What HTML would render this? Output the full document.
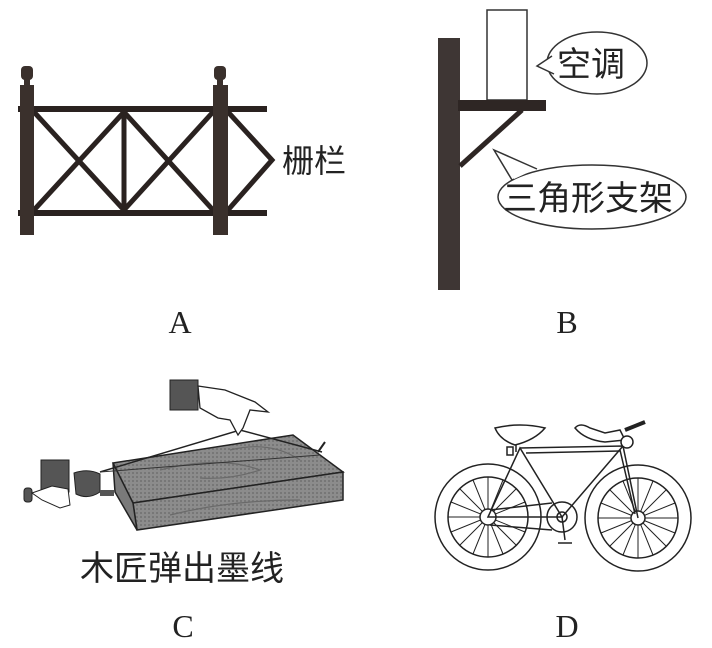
<!DOCTYPE html>
<html><head><meta charset="utf-8"><style>
html,body{margin:0;padding:0;background:#fff}
svg{display:block}
text{font-family:"Liberation Sans","Noto Sans CJK SC",sans-serif;fill:#222}
.s{font-family:"Liberation Serif",serif}
</style></head><body>
<svg width="712" height="648" viewBox="0 0 712 648" xmlns="http://www.w3.org/2000/svg">
<!-- A fence -->
<g stroke="#2a2220" fill="none">
<line x1="18" y1="109" x2="267" y2="109" stroke-width="6"/>
<line x1="18" y1="213" x2="267" y2="213" stroke-width="6"/>
<line x1="124" y1="109" x2="124" y2="213" stroke-width="5"/>
<g stroke-width="5">
<line x1="34" y1="112" x2="124" y2="210"/><line x1="124" y1="112" x2="34" y2="210"/>
<line x1="124" y1="112" x2="213" y2="210"/><line x1="213" y1="112" x2="124" y2="210"/>
<polyline points="228,112 272,160 228,210"/>
</g>
</g>
<rect x="20" y="85" width="14" height="150" fill="#3a302c"/>
<rect x="213" y="85" width="15" height="150" fill="#3a302c"/>
<rect x="21" y="66" width="12" height="14" rx="4" fill="#3a302c"/>
<rect x="24" y="79" width="6" height="7" fill="#3a302c"/>
<rect x="214" y="66" width="12" height="14" rx="4" fill="#3a302c"/>
<rect x="217" y="79" width="6" height="7" fill="#3a302c"/>
<text x="282" y="172" font-size="32">栅栏</text>
<text x="180" y="333" font-size="32" class="s" text-anchor="middle">A</text>

<!-- B -->
<rect x="438" y="38" width="22" height="252" fill="#3e3634"/>
<rect x="487" y="10" width="40" height="90" fill="#fff" stroke="#333" stroke-width="1.5"/>
<rect x="458" y="100" width="88" height="11" fill="#2e2624"/>
<line x1="460" y1="166" x2="522" y2="110" stroke="#2e2624" stroke-width="5"/>
<ellipse cx="597" cy="63" rx="50" ry="31" fill="#fff" stroke="#333" stroke-width="1.5"/>
<polygon points="552,56 537,66 554,74" fill="#fff" stroke="none"/>
<polyline points="552,56 537,66 554,74" fill="none" stroke="#333" stroke-width="1.5"/>
<text x="557" y="76" font-size="34">空调</text>
<ellipse cx="592" cy="197" rx="94" ry="32" fill="#fff" stroke="#333" stroke-width="1.5"/>
<polygon points="514,179 494,150 538,168" fill="#fff" stroke="none"/>
<polyline points="512,180 494,150 537,169" fill="none" stroke="#333" stroke-width="1.5"/>
<text x="503" y="210" font-size="34">三角形支架</text>
<text x="567" y="333" font-size="32" class="s" text-anchor="middle">B</text>

<!-- C board -->
<defs><pattern id="g" width="4" height="4" patternUnits="userSpaceOnUse"><rect width="4" height="4" fill="#8c8c8c"/><rect width="2" height="2" fill="#777"/></pattern></defs>
<polygon points="113,463 293,435 343,472 133,503" fill="url(#g)" stroke="#222" stroke-width="1.5"/>
<polygon points="133,503 343,472 343,500 137,530" fill="url(#g)" stroke="#222" stroke-width="1.5"/>
<polygon points="113,463 133,503 137,530 115,492" fill="#7a7a7a" stroke="#222" stroke-width="1.5"/>
<g fill="none" stroke="#6a6a6a" stroke-width="1.2">
<path d="M160,470 Q220,455 260,470 Q230,480 200,478"/><path d="M230,450 Q270,440 300,460"/><path d="M170,515 Q230,500 300,500"/>
</g>
<polyline points="100,472 240,430 322,452" fill="none" stroke="#222" stroke-width="1.5"/>
<line x1="100" y1="472" x2="320" y2="455" stroke="#333" stroke-width="1"/>
<line x1="318" y1="452" x2="325" y2="442" stroke="#222" stroke-width="2"/>
<rect x="170" y="380" width="28" height="30" fill="#555" stroke="#222"/>
<path d="M198,386 L225,390 L255,402 L268,412 L250,410 L243,428 L238,435 L230,420 L218,418 L200,408 Z" fill="#fff" stroke="#222" stroke-width="1.3"/>
<rect x="41" y="460" width="28" height="32" fill="#555" stroke="#222"/>
<path d="M74,473 Q88,468 100,474 L100,492 Q88,500 76,494 Z" fill="#555" stroke="#222"/>
<rect x="100" y="490" width="14" height="6" fill="#555"/>
<rect x="24" y="488" width="8" height="14" rx="3" fill="#555" stroke="#222"/>
<path d="M32,493 L52,486 L68,489 L70,505 L60,508 L42,500 Z" fill="#fff" stroke="#222"/>
<text x="80" y="580" font-size="34">木匠弹出墨线</text>
<text x="183" y="637" font-size="32" class="s" text-anchor="middle">C</text>

<!-- D bicycle -->
<g fill="none" stroke="#222" stroke-width="1.5">
<circle cx="488" cy="517" r="53"/><circle cx="488" cy="517" r="40"/>
<circle cx="638" cy="518" r="53"/><circle cx="638" cy="518" r="40"/>
<g stroke-width="1">
<path d="M488,477V557M448,517H528M460,489L516,545M516,489L460,545M473,480L503,554M503,480L473,554M451,502L525,532M525,502L451,532"/>
<path d="M638,478V558M598,518H678M610,490L666,546M666,490L610,546M623,481L653,555M653,481L623,555M601,503L675,533M675,503L601,533"/>
</g>
<circle cx="488" cy="517" r="8" fill="#fff"/><circle cx="638" cy="518" r="7" fill="#fff"/>
<circle cx="562" cy="517" r="15" fill="#fff"/><circle cx="562" cy="517" r="5"/>
<path d="M488,517 L520,448 L562,517 Z"/>
<path d="M520,448 L623,446 L562,517"/>
<path d="M526,453 L620,451" />
<path d="M490,510 L552,503 M490,525 L552,530"/>
<path d="M623,446 L638,518"/>
<path d="M620,450 L635,514"/>
<path d="M562,517 L565,540 M558,543 L572,543"/>
<path d="M495,428 Q520,422 545,428 Q535,440 515,445 Q500,440 495,428 Z" fill="#fff"/>
<path d="M516,445 V452"/>
<rect x="507" y="447" width="6" height="8"/>
<path d="M575,428 Q580,422 590,428 L605,433 L620,430 L625,440 L605,442 Q585,440 575,428 Z" fill="#fff"/>
<path d="M625,430 L645,422" stroke-width="4"/>
<circle cx="627" cy="442" r="6" fill="#fff"/>
</g>
<text x="567" y="637" font-size="32" class="s" text-anchor="middle">D</text>
</svg>
</body></html>
